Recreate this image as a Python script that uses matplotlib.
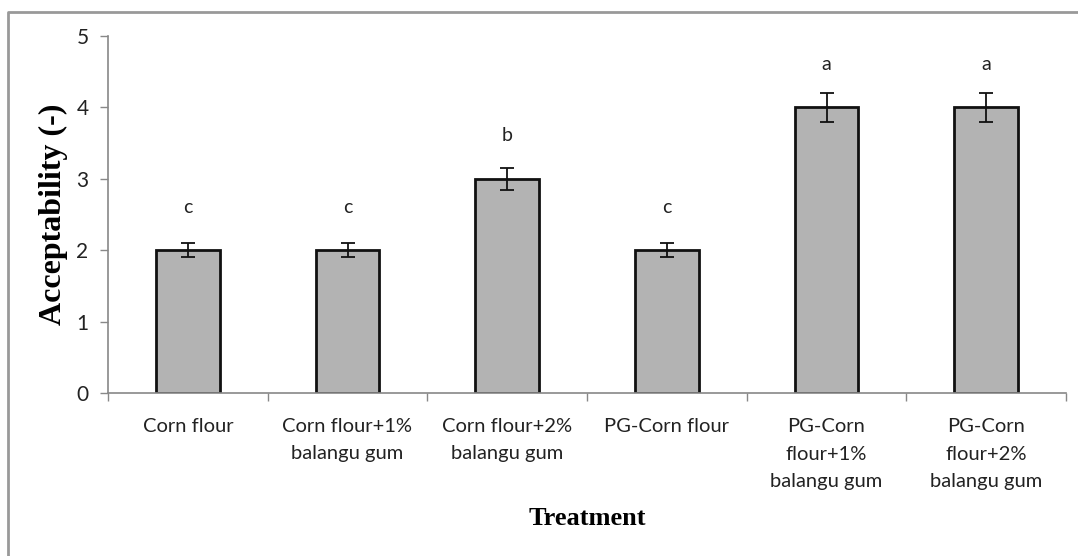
import matplotlib
matplotlib.use("Agg")
import matplotlib.pyplot as plt
from matplotlib.lines import Line2D
import numpy as np

categories = ["Corn flour", "Corn flour+1%\nbalangu gum", "Corn flour+2%\nbalangu gum",
              "PG-Corn flour", "PG-Corn\nflour+1%\nbalangu gum", "PG-Corn\nflour+2%\nbalangu gum"]
values = [2, 2, 3, 2, 4, 4]
errors = [0.1, 0.1, 0.15, 0.1, 0.2, 0.2]
letters = ["c", "c", "b", "c", "a", "a"]
yticks = [0, 1, 2, 3, 4, 5]

W, H = 1078, 556
fig = plt.figure(figsize=(W / 100, H / 100), dpi=100)
ax = fig.add_axes([108 / W, 1 - 393 / H, (1066 - 108) / W, (393 - 36) / H])

x = np.arange(len(categories))
ax.bar(x, values, width=0.4, color="#b3b3b3", edgecolor="#111111", linewidth=2, zorder=2)
ax.errorbar(x, values, yerr=errors, fmt="none", ecolor="#111111", elinewidth=1.3,
            capsize=5, capthick=1.3, zorder=3)
for xi, v, t in zip(x, values, letters):
    ax.text(xi, v + 0.6, t, ha="center", va="center", fontsize=14, family="Lato", color="#222222")

ax.set_xlim(-0.5, len(categories) - 0.5)
ax.set_ylim(0, 5)
ax.set_yticks(yticks)
ax.set_yticklabels([str(t) for t in yticks], fontsize=15, family="Lato", color="#222222")
ax.set_xticks(x)
ax.set_xticklabels(categories, fontsize=14.5, family="Lato", color="#222222", linespacing=1.75)
ax.tick_params(axis="x", which="major", length=0, pad=18)
ax.set_xticks(np.arange(-0.5, len(categories), 1.0), minor=True)
ax.tick_params(axis="x", which="minor", length=6, direction="out", color="#888888", width=1)
ax.tick_params(axis="y", length=6, direction="out", color="#888888", width=1, pad=8)
for s in ["top", "right"]:
    ax.spines[s].set_visible(False)
for s in ["left", "bottom"]:
    ax.spines[s].set_color("#888888")
    ax.spines[s].set_linewidth(1.2)

ax.set_ylabel("Acceptability (-)", fontsize=23, family="Liberation Serif", fontweight="bold", labelpad=6)
ax.set_xlabel("Treatment", fontsize=19, family="Liberation Serif", fontweight="bold", labelpad=12)

fig.add_artist(Line2D([8 / W, 8 / W, 1.0], [0.0, 1 - 12 / H, 1 - 12 / H],
                      transform=fig.transFigure, color="#999999", linewidth=2))

fig.savefig("out.png", dpi=100)
